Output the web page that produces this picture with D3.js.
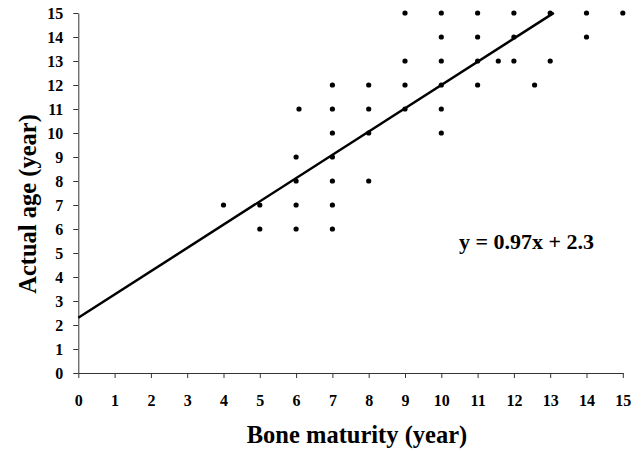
<!DOCTYPE html>
<html><head><meta charset="utf-8">
<script src="https://cdn.jsdelivr.net/npm/d3@7"></script>
<style>body{margin:0;background:#fff}svg{display:block}</style>
</head><body>
<svg id="c" width="641" height="451"></svg>
<script>
const boneMaturity = [4,5,5,6,6,6,6,6.08,7,7,7,7,7,7,7,8,8,8,8,9,9,9,9,10,10,10,10,10,10,11,11,11,11,11.57,12,12,12,12.57,13,13,14,14,15];
const actualAge   = [7,7,6,6,7,8,9,11,6,7,8,9,10,11,12,8,10,11,12,11,12,13,15,10,11,12,13,14,15,12,13,14,15,13,13,14,15,12,13,15,14,15,15];
const xTicks = d3.range(0,16);
const yTicks = d3.range(0,16);
const slope = 0.97, intercept = 2.3;
const lineRange = [0, 13.1];
const equationLabel = "y = 0.97x + 2.3";
const xTitle = "Bone maturity (year)";
const yTitle = "Actual age (year)";

const svg = d3.select("#c");
const font = "'Liberation Serif','Times New Roman',serif";
const x = d3.scaleLinear().domain([0,15]).range([78.3,622.8]);
const y = d3.scaleLinear().domain([0,15]).range([373,13]);

const xa = svg.append("g").attr("transform",`translate(0,${y(0)})`)
  .call(d3.axisBottom(x).tickValues(xTicks).tickSize(5).tickPadding(17).tickSizeOuter(0));
const ya = svg.append("g").attr("transform",`translate(${x(0)},0)`)
  .call(d3.axisLeft(y).tickValues(yTicks).tickSize(5).tickPadding(10).tickSizeOuter(0));
[xa,ya].forEach(a=>{
  a.selectAll("path,line").attr("stroke","#333").attr("stroke-width",1);
  a.selectAll("text").attr("font-family",font).attr("font-weight","bold").attr("font-size",16).attr("fill","#000");
});

svg.append("line")
  .attr("x1",x(lineRange[0])).attr("y1",y(slope*lineRange[0]+intercept))
  .attr("x2",x(lineRange[1])).attr("y2",y(slope*lineRange[1]+intercept))
  .attr("stroke","#000").attr("stroke-width",2.5);

svg.append("g").selectAll("circle").data(boneMaturity.map((v,i)=>[v,actualAge[i]]))
  .join("circle").attr("cx",d=>x(d[0])).attr("cy",d=>y(d[1])).attr("r",2.6).attr("fill","#000");

svg.append("text").attr("x",526.5).attr("y",249).attr("text-anchor","middle")
  .attr("font-family",font).attr("font-weight","bold").attr("font-size",22).text(equationLabel);

svg.append("text").attr("x",357).attr("y",443).attr("text-anchor","middle")
  .attr("font-family",font).attr("font-weight","bold").attr("font-size",24.5).text(xTitle);
svg.append("text").attr("transform","translate(36,204) rotate(-90)").attr("text-anchor","middle")
  .attr("font-family",font).attr("font-weight","bold").attr("font-size",24.5).text(yTitle);
</script>
</body></html>
